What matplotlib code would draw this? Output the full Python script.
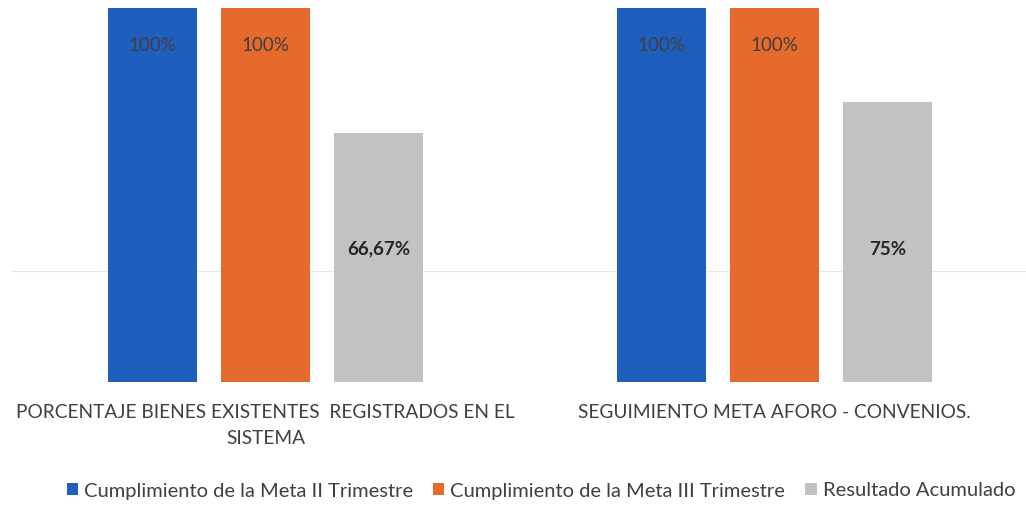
import matplotlib
matplotlib.use("Agg")
import matplotlib.pyplot as plt
import numpy as np

categories = ["PORCENTAJE BIENES EXISTENTES  REGISTRADOS EN EL\nSISTEMA",
              "SEGUIMIENTO META AFORO - CONVENIOS."]
series_names = ["Cumplimiento de la Meta II Trimestre",
                "Cumplimiento de la Meta III Trimestre",
                "Resultado Acumulado"]
meta_ii = [1.00, 1.00]
meta_iii = [1.00, 1.00]
acumulado = [0.6667, 0.75]
labels_ii = ["100%", "100%"]
labels_iii = ["100%", "100%"]
labels_acum = ["66,67%", "75%"]

colors = ["#1E5FBE", "#E66A2C", "#C2C2C2"]

plt.rcParams['font.family'] = ['Lato', 'DejaVu Sans']

fig = plt.figure(figsize=(10.26, 5.15), dpi=100)
ax = fig.add_axes([11/1026, 1-382/515, 1018/1026, (382-8)/515])

x = np.arange(len(categories))
step = 0.222
width = 0.173
series = [meta_ii, meta_iii, acumulado]
labels = [labels_ii, labels_iii, labels_acum]
for i, (vals, lab, col, name) in enumerate(zip(series, labels, colors, series_names)):
    pos = x + (i - 1) * step
    bars = ax.bar(pos, vals, width, color=col, label=name, zorder=2)
    for p, v, t in zip(pos, vals, lab):
        if i < 2:
            ax.text(p, v * 0.90, t, ha='center', va='center', fontsize=13.5,
                    color='#404040', zorder=3)
        else:
            ax.text(p, 0.355, t, ha='center', va='center', fontsize=13.5,
                    color='#262626', fontweight='bold', zorder=3)

ax.axhline(0.297, color='#E8E8E8', lw=0.8, zorder=1)
ax.set_xlim(-0.5, 1.5)
ax.set_ylim(0, 1.0)
for s in ax.spines.values():
    s.set_visible(False)
ax.set_yticks([])
ax.set_xticks(x)
ax.set_xticklabels(categories, fontsize=13.8, color='#404040', linespacing=1.65)
ax.tick_params(axis='x', length=0, pad=16)

handles, lbls = ax.get_legend_handles_labels()
fig.legend(handles, lbls, loc='center', bbox_to_anchor=(541/1026, 1-491/515),
           ncol=3, frameon=False, fontsize=14.5, handlelength=0.55, handleheight=0.55,
           handletextpad=0.3, columnspacing=1.0, labelcolor='#404040')

fig.savefig("out.png", dpi=100)
